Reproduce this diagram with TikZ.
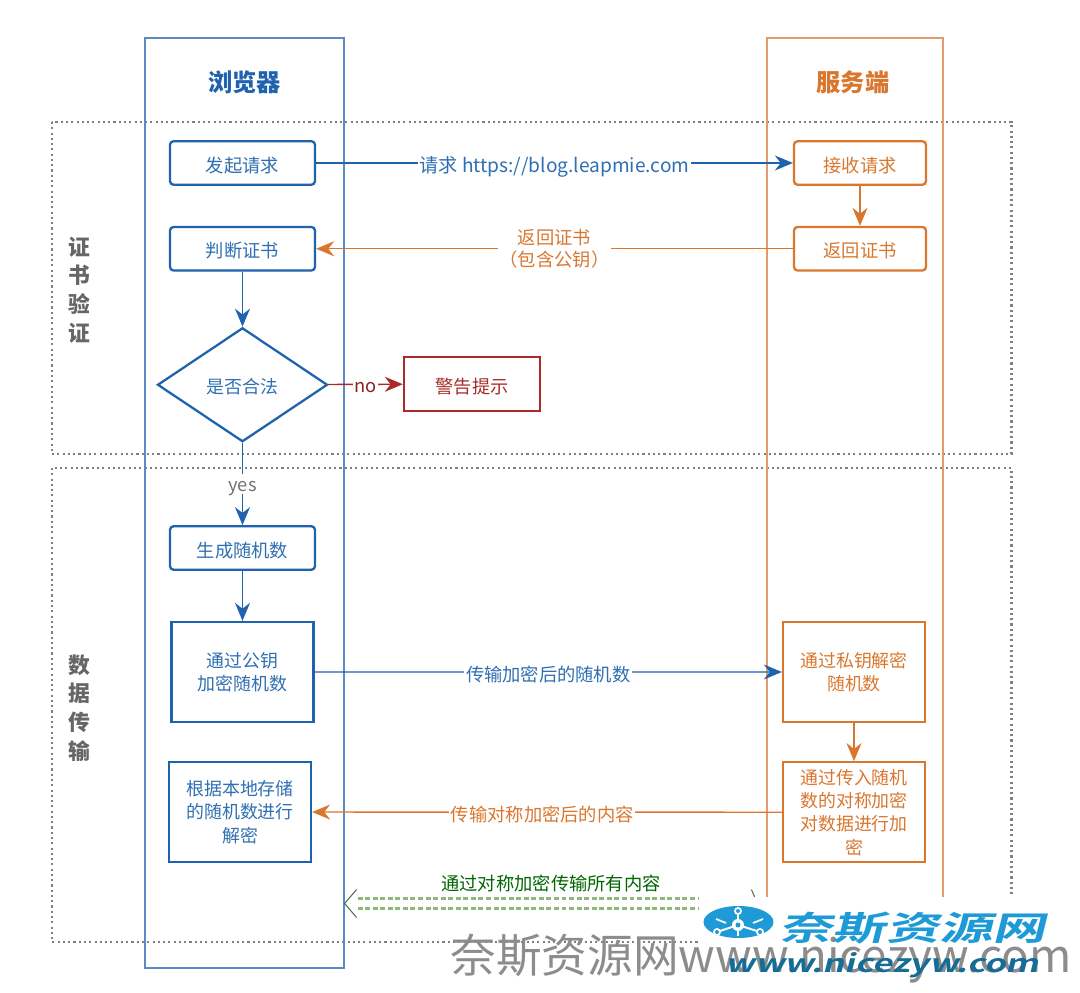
\documentclass[tikz,border=0pt]{standalone}
\usepackage{fontspec}
\setmainfont{Noto Sans CJK SC}
\newfontfamily\logofont[FakeSlant=0.25,FakeStretch=1.6]{Noto Sans CJK SC Bold}
\newfontfamily\urlfont[FakeSlant=0.25,FakeStretch=1.4]{Noto Sans CJK SC Bold}
\usepackage{tikz}
\usetikzlibrary{positioning, arrows.meta, backgrounds, shapes.geometric}

\definecolor{lineBlue}{HTML}{1F62AE}
\definecolor{laneBlue}{HTML}{5B8AC5}
\definecolor{textBlue}{HTML}{2F6FB2}
\definecolor{lineOrange}{HTML}{D9772F}
\definecolor{laneOrange}{HTML}{E39A6C}
\definecolor{lineRed}{HTML}{A82A2A}
\definecolor{lineGreen}{HTML}{8DB87C}
\definecolor{logoBlue}{HTML}{1E9BD7}

\begin{document}
\begin{tikzpicture}[
                x=0.02cm, y=-0.02cm,
                % Box Styles
                laneBox/.style = {rectangle, draw, line width=0.7pt, fill=none, inner sep=0pt},
                zoneBox/.style = {draw=black!50, line width=1.2pt, dash pattern=on 1.2pt off 1.8pt},
                stepBox/.style = {rectangle, draw, rounded corners=2, line width=1.3pt, fill=white, minimum width=2.9cm, minimum height=0.87cm, align=center, text height=10.5pt, text depth=0pt, font=\fontsize{10.4}{14}\selectfont},
                blockBox/.style = {rectangle, draw, line width=1.3pt, fill=white, minimum width=2.84cm, minimum height=2cm, align=center, font=\fontsize{10.2}{13.3}\selectfont},
                titleText/.style = {font=\fontsize{13.8}{16}\selectfont\bfseries},
                sideText/.style = {text=black!60, align=center, font=\fontsize{12.4}{16.4}\selectfont\bfseries},
                % Arrow Style
                dataLine/.style = {-{Stealth[length=0.36cm, width=0.3cm]}, line width=0.8pt},
                lineLabel/.style = {fill=white, inner sep=1pt, align=center, text height=10.5pt, text depth=0pt, font=\fontsize{10.4}{14}\selectfont},
                tunnelLine/.style = {lineGreen, line width=1.4pt, double=white, double distance=4.2pt, dash pattern=on 2.8pt off 1.5pt},
                tunnelHead/.style = {black!40!lineGreen, line width=0.6pt}
            ]
                \useasboundingbox (0,0) rectangle (1080,993);

                % ==========================================
                % BACKGROUND CONTAINERS
                % ==========================================
                \begin{pgfonlayer}{background}
                    \draw[zoneBox] (52,122) rectangle (1011.5,454);
                    \draw[zoneBox] (52,468) rectangle (1011.5,942);
                \end{pgfonlayer}
                \node[laneBox, draw=laneBlue, minimum width=3.98cm, minimum height=18.6cm] (Browser) at (244.5,503) {};
                \node[laneBox, draw=laneOrange, minimum width=3.52cm, minimum height=18.6cm] (Server) at (855,503) {};

                \node[titleText, text=lineBlue] (BrowserTitle) at (244.5,82) {浏览器};
                \node[titleText, text=lineOrange] (ServerTitle) at (853,82) {服务端};
                \node[sideText] (CertTitle) at (79,290) {证\\书\\验\\证};
                \node[sideText] (DataTitle) at (79,708) {数\\据\\传\\输};

                % ==========================================
                % BROWSER STEPS
                % ==========================================
                \node[stepBox, draw=lineBlue, text=textBlue] (Request) at (242.5,163) {发起请求};
                \node[stepBox, draw=lineBlue, text=textBlue, below=0.8cm of Request] (CheckCert) {判断证书};
                \node[diamond, draw=lineBlue, line width=1.3pt, text=textBlue, inner sep=0pt, minimum width=3.4cm, minimum height=2.28cm, text height=10.5pt, text depth=0pt, font=\fontsize{10.2}{14}\selectfont, below=1.1cm of CheckCert] (IsValid) {是否合法};
                \node[rectangle, draw=lineRed, line width=1.4pt, text=lineRed, minimum width=2.72cm, minimum height=1.08cm, text height=10.5pt, text depth=0pt, font=\fontsize{10.4}{14}\selectfont] (Warn) at (472,384) {警告提示};
                \node[stepBox, draw=lineBlue, text=textBlue] (RandNum) at (242.5,548) {生成随机数};
                \node[blockBox, draw=lineBlue, text=textBlue, below=1cm of RandNum] (Encrypt) {通过公钥\\加密随机数};
                \node[blockBox, draw=lineBlue, text=textBlue] (Decrypt) at (240,812) {根据本地存储\\的随机数进行\\解密};

                % ==========================================
                % SERVER STEPS
                % ==========================================
                \node[stepBox, draw=lineOrange, text=lineOrange, minimum width=2.64cm] (Receive) at (860,163) {接收请求};
                \node[stepBox, draw=lineOrange, text=lineOrange, minimum width=2.64cm, below=0.8cm of Receive] (ReturnCert) {返回证书};
                \node[blockBox, draw=lineOrange, text=lineOrange] (SrvDecrypt) at (854,672) {通过私钥解密\\随机数};
                \node[blockBox, draw=lineOrange, text=lineOrange, below=0.76cm of SrvDecrypt] (SrvEncrypt) {通过传入随机\\数的对称加密\\对数据进行加\\密};

                % ==========================================
                % ROUTING LINES
                % ==========================================
                \draw[dataLine, color=lineBlue] (Request) -- (Receive)
                    node[lineLabel, pos=0.5, text=textBlue, font=\fontsize{10.9}{14}\selectfont] (ReqLabel) {请求 https://blog.leapmie.com};
                \draw[dataLine, color=lineOrange] (Receive) -- (ReturnCert);
                \draw[dataLine, color=lineOrange] (ReturnCert) -- (CheckCert)
                    node[lineLabel, pos=0.5, text=lineOrange, text height=, text depth=, font=\fontsize{10.4}{12.6}\selectfont] (CertLabel) {返回证书\\（包含公钥）};
                \draw[dataLine, color=lineBlue] (CheckCert) -- (IsValid);
                \draw[dataLine, color=lineRed] (IsValid) -- (Warn)
                    node[lineLabel, pos=0.5, text=lineRed!80!black, text height=9pt] (NoLabel) {no};
                \draw[dataLine, color=lineBlue] (IsValid) -- (RandNum)
                    node[lineLabel, pos=0.5, text=black!55, text height=9pt] (YesLabel) {yes};
                \draw[dataLine, color=lineBlue] (RandNum) -- (Encrypt);
                \draw[dataLine, color=lineBlue] (Encrypt) -- (SrvDecrypt)
                    node[lineLabel, pos=0.5, text=textBlue] (SendLabel) {传输加密后的随机数};
                \draw[dataLine, color=lineOrange] (SrvEncrypt) -- (Decrypt)
                    node[lineLabel, pos=0.51, text=lineOrange] (BackLabel) {传输对称加密后的内容};
                \draw[dataLine, color=lineOrange] (SrvDecrypt) -- (SrvEncrypt);

                % Double arrow between the two lanes
                \coordinate (TunnelL) at (Browser.east |- 0,903.5);
                \coordinate (TunnelR) at ([xshift=-0.18cm]Server.west |- 0,903.5);
                \draw[tunnelLine, shorten <=0.26cm, shorten >=0.26cm] (TunnelL) -- (TunnelR);
                \draw[tunnelHead] (TunnelL) ++(12,-14) -- (TunnelL) -- ++(12,14);
                \draw[tunnelHead] (TunnelR) ++(-6,-14) -- (TunnelR) -- ++(-6,14);
                \node[lineLabel, fill=none, text=green!40!black] (TunnelLabel) at (551,881) {通过对称加密传输所有内容};

                % ==========================================
                % WATERMARK
                % ==========================================
                \fill[white] (699,896.5) rectangle (1080,993);
                \node[inner sep=0pt, anchor=base west, text=black!45, font=\fontsize{26}{30}\selectfont] (GrayMark) at (450,972) {奈斯资源网www.nicezyw.com};
                \node[ellipse, fill=logoBlue, minimum width=1.4cm, minimum height=0.64cm, inner sep=0pt] (Logo) at (738.5,922) {};
                \coordinate (LogoHub) at (738,925);
                \foreach \dx/\dy in {0/-14, -21/7, 22/7} {
                    \draw[white, line width=1.1pt] (LogoHub) -- ++(\dx,\dy);
                    \fill[white] (LogoHub) ++(\dx,\dy) circle (0.08cm);
                    \fill[logoBlue] (LogoHub) ++(\dx,\dy) circle (0.04cm);
                }
                \fill[white] (LogoHub) circle (0.12cm);
                \fill[logoBlue] (LogoHub) circle (0.05cm);
                \draw[white, line width=1pt] (716,919) -- (726,923);
                \draw[white, line width=1pt] (763,919) -- (753,923);
                \draw[white, line width=1pt] (738,931) -- (738,936);
                \node[inner sep=0pt, anchor=base west, text=logoBlue, font=\logofont\fontsize{19}{22}\selectfont] (LogoText) at (779,940) {奈斯资源网};
                \node[inner sep=0pt, anchor=base west, text=logoBlue!70!black, font=\urlfont\fontsize{14}{18}\selectfont] (LogoUrl) at (725,972) {www.nicezyw.com};

            \end{tikzpicture}
\end{document}
